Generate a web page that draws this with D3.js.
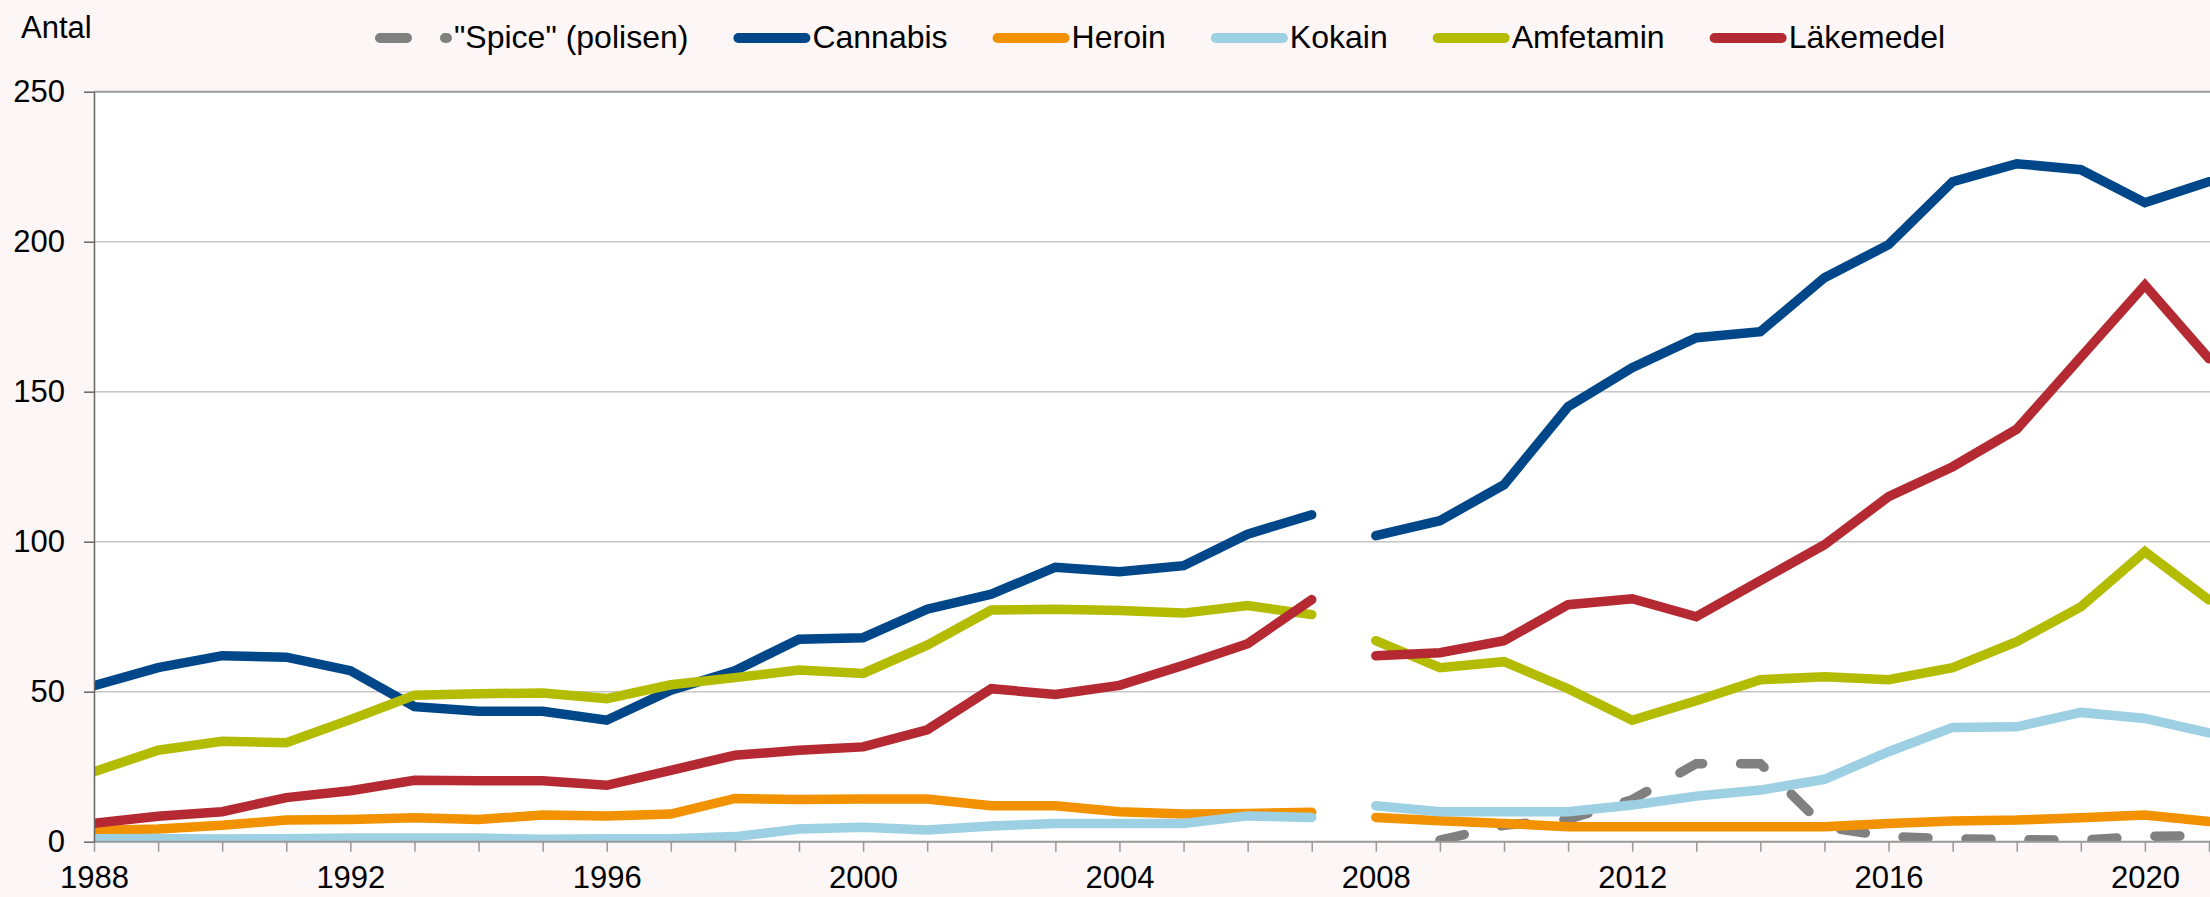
<!DOCTYPE html>
<html>
<head>
    <meta charset="UTF-8">
    <title>Antal</title>
    <script src="https://cdn.jsdelivr.net/npm/d3@7"></script>
    <style>
        body {
            margin: 0;
            padding: 0;
            background: #FCF6F6;
        }
        svg {
            display: block;
            font-family: "Liberation Sans", Arial, sans-serif;
        }
        .axis-text {
            font-size: 31px;
            fill: #000;
        }
        .legend-text {
            font-size: 32px;
            fill: #000;
        }
    </style>
</head>
<body>
<svg id="chart" width="2210" height="897"></svg>
<script>
    // data
    const years = [1988, 1989, 1990, 1991, 1992, 1993, 1994, 1995, 1996, 1997,
        1998, 1999, 2000, 2001, 2002, 2003, 2004, 2005, 2006, 2007,
        2008, 2009, 2010, 2011, 2012, 2013, 2014, 2015, 2016, 2017,
        2018, 2019, 2020, 2021];

    const spice = [null, null, null, null, null, null, null, null, null, null,
        null, null, null, null, null, null, null, null, null, null,
        null, 0.5, 5.5, 7.5, 14, 26, 26, 5, 1.7, 1,
        0.7, 0.5, 1.8, 2];

    const cannabis = [52, 58, 62, 61.5, 57, 45, 43.5, 43.5, 40.5, 50.5,
        57, 67.5, 68, 77.5, 82.5, 91.5, 90, 92, 102.5, 109,
        102, 107, 119, 145, 158, 168, 170, 188, 199, 220,
        226, 224, 213, 220];

    const heroin = [3.7, 4.2, 5.5, 7.2, 7.4, 8, 7.4, 8.9, 8.6, 9.2,
        14.4, 14.1, 14.2, 14.2, 12, 12, 10, 9.2, 9.4, 9.8,
        8.1, 7, 6.1, 5, 5, 5, 5, 5, 6.1, 6.9,
        7.2, 8, 8.9, 6.7];

    const kokain = [1, 1.1, 0.9, 1, 1.2, 1.2, 1.2, 0.8, 1, 1,
        1.7, 4.2, 4.8, 3.9, 5.2, 6.1, 6.1, 6.1, 8.6, 8.1,
        12, 10, 10, 10, 12.2, 15.2, 17.2, 20.8, 30, 38.1,
        38.3, 43.1, 41.1, 36.3];

    const amfetamin = [23.3, 30.5, 33.5, 33, 40.7, 48.8, 49.3, 49.6, 47.7, 52.3,
        54.7, 57.2, 56.1, 65.5, 77.2, 77.5, 77.1, 76.2, 78.7, 75.7,
        67, 58, 60, 51, 40.5, 47, 54, 55, 54, 58,
        66.7, 78.3, 96.7, 80.6];

    const lakemedel = [6.1, 8.5, 10, 14.7, 17, 20.5, 20.3, 20.3, 18.8, 23.8,
        28.8, 30.5, 31.6, 37.3, 51, 49.1, 52.1, 58.8, 66, 80.7,
        62, 63, 67, 79, 81, 75, 87, 99, 115, 125,
        137.5, 161.5, 185.5, 161];

    const seriesNames = ['"Spice" (polisen)', "Cannabis", "Heroin", "Kokain", "Amfetamin", "Läkemedel"];
    const seriesValues = [spice, cannabis, heroin, kokain, amfetamin, lakemedel];

    const yTicks = [0, 50, 100, 150, 200, 250];
    const xTickLabels = [1988, 1992, 1996, 2000, 2004, 2008, 2012, 2016, 2020];
    const breakAfter = 2007; // series are not joined between 2007 and 2008

    // styles
    const colors = ["#808080", "#00478A", "#F39200", "#9DD0E3", "#B3BC00", "#B52A32"];
    const dashes = ["25 38", null, null, null, null, null];

    const width = 2210, height = 897;
    const plot = {left: 94, right: 2209, top: 91.7, bottom: 841.7};

    const svg = d3.select("#chart");

    const x = d3.scaleLinear()
        .domain([1988, 2021])
        .range([plot.left, plot.right]);

    const y = d3.scaleLinear()
        .domain([0, 250])
        .range([plot.bottom, plot.top]);

    // plot area
    svg.append("rect")
        .attr("x", plot.left)
        .attr("y", plot.top)
        .attr("width", width - plot.left)
        .attr("height", plot.bottom - plot.top)
        .attr("fill", "#FFFFFF");

    svg.append("clipPath")
        .attr("id", "plot-clip")
        .append("rect")
        .attr("x", plot.left)
        .attr("y", plot.top - 1)
        .attr("width", width - plot.left)
        .attr("height", plot.bottom - plot.top + 1);

    // gridlines
    svg.append("g")
        .selectAll("line")
        .data(yTicks.filter(d => d > 0 && d < 250))
        .join("line")
        .attr("x1", plot.left)
        .attr("x2", width)
        .attr("y1", d => y(d))
        .attr("y2", d => y(d))
        .attr("stroke", "#C6C6C6")
        .attr("stroke-width", 1.5);

    // top border
    svg.append("line")
        .attr("x1", plot.left)
        .attr("x2", width)
        .attr("y1", y(250))
        .attr("y2", y(250))
        .attr("stroke", "#999999")
        .attr("stroke-width", 2);

    // lines
    const line = d3.line()
        .defined(d => d.value != null)
        .x(d => x(d.year))
        .y(d => y(d.value));

    const linesG = svg.append("g").attr("clip-path", "url(#plot-clip)");

    seriesValues.forEach(function (values, i) {
        const points = years.map((yr, j) => ({year: yr, value: values[j]}));
        const segments = [
            points.filter(d => d.year <= breakAfter),
            points.filter(d => d.year > breakAfter)
        ];
        segments.forEach(function (seg) {
            if (seg.filter(d => d.value != null).length < 2) return;
            linesG.append("path")
                .datum(seg)
                .attr("d", line)
                .attr("fill", "none")
                .attr("stroke", colors[i])
                .attr("stroke-width", 9.5)
                .attr("stroke-linecap", "round")
                .attr("stroke-linejoin", "miter")
                .attr("stroke-dasharray", dashes[i]);
        });
    });

    // x axis
    const xAxis = svg.append("g")
        .attr("transform", "translate(0," + plot.bottom + ")")
        .call(d3.axisBottom(x)
            .tickValues(years)
            .tickSize(10)
            .tickPadding(14)
            .tickFormat(d => xTickLabels.includes(d) ? d : ""));

    xAxis.select(".domain")
        .attr("d", "M" + plot.left + ",0H" + width)
        .attr("stroke", "#999999")
        .attr("stroke-width", 2);
    xAxis.selectAll(".tick line").attr("stroke", "#999999").attr("stroke-width", 1.5);
    xAxis.selectAll(".tick text").attr("class", "axis-text");
    xAxis.attr("font-family", null).attr("font-size", null);

    // y axis
    const yAxis = svg.append("g")
        .attr("transform", "translate(" + plot.left + ",0)")
        .call(d3.axisLeft(y)
            .tickValues(yTicks)
            .tickSize(10)
            .tickPadding(19)
            .tickSizeOuter(0));

    yAxis.select(".domain").attr("stroke", "#666666").attr("stroke-width", 1.5);
    yAxis.selectAll(".tick line").attr("stroke", "#666666").attr("stroke-width", 1.5);
    yAxis.selectAll(".tick text").attr("class", "axis-text");
    yAxis.attr("font-family", null).attr("font-size", null);

    // y title
    svg.append("text")
        .attr("class", "axis-text")
        .attr("x", 21)
        .attr("y", 38)
        .text("Antal");

    // legend
    const legend = svg.append("g");
    let lx = 375;
    const ly = 38;
    seriesNames.forEach(function (name, i) {
        legend.append("line")
            .attr("x1", lx + 5)
            .attr("x2", lx + 72)
            .attr("y1", ly)
            .attr("y2", ly)
            .attr("stroke", colors[i])
            .attr("stroke-width", 10)
            .attr("stroke-linecap", "round")
            .attr("stroke-dasharray", i === 0 ? "27 38" : null);
        const t = legend.append("text")
            .attr("class", "legend-text")
            .attr("x", lx + 79)
            .attr("y", ly + 10)
            .text(name);
        lx = lx + 79 + t.node().getComputedTextLength() + 45;
    });
</script>
</body>
</html>
